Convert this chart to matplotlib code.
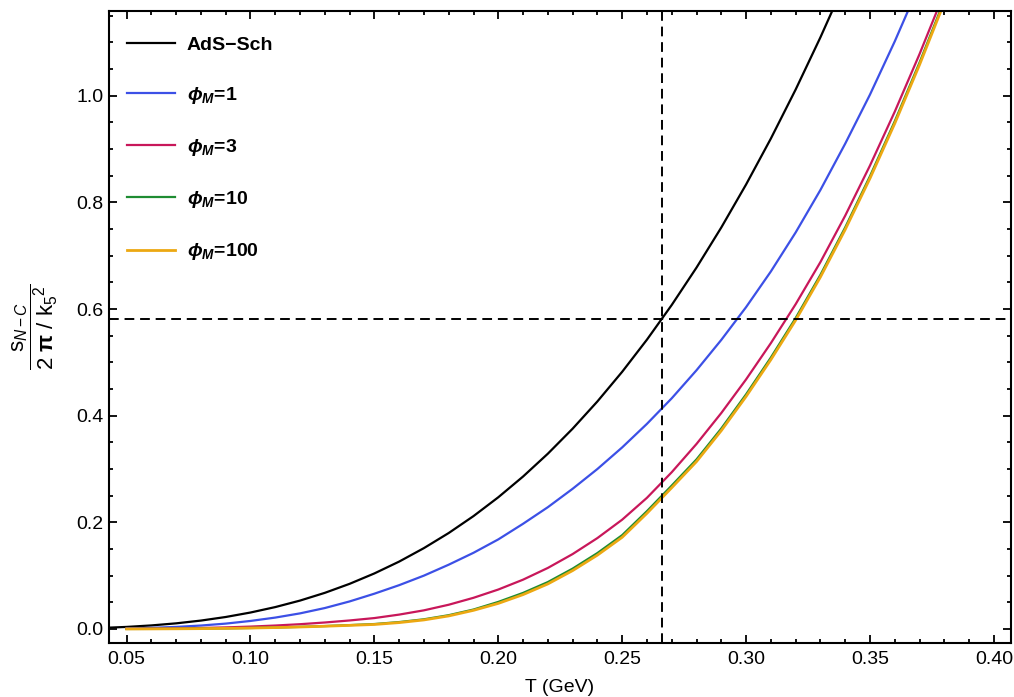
import numpy as np
import matplotlib
matplotlib.use('Agg')
import matplotlib.pyplot as plt

# ---- data (T in GeV, entropy density ratio) ----
T_ads = [0.04, 0.05, 0.06, 0.07, 0.08, 0.09, 0.10, 0.11, 0.12, 0.13, 0.14, 0.15,
         0.16, 0.17, 0.18, 0.19, 0.20, 0.21, 0.22, 0.23, 0.24, 0.25, 0.26, 0.27,
         0.28, 0.29, 0.30, 0.31, 0.32, 0.33, 0.34]
s_ads = [0.002, 0.0039, 0.0067, 0.0106, 0.0158, 0.0225, 0.0309, 0.0411, 0.0533,
         0.0678, 0.0847, 0.1042, 0.1264, 0.1517, 0.1800, 0.2117, 0.2470, 0.2859,
         0.3287, 0.3756, 0.4267, 0.4823, 0.5426, 0.6076, 0.6777, 0.7529, 0.8335,
         0.9196, 1.0115, 1.1094, 1.2133]

T_phi = [0.05, 0.06, 0.07, 0.08, 0.09, 0.10, 0.11, 0.12, 0.13, 0.14, 0.15, 0.16,
         0.17, 0.18, 0.19, 0.20, 0.21, 0.22, 0.23, 0.24, 0.25, 0.26, 0.27, 0.28,
         0.29, 0.30, 0.31, 0.32, 0.33, 0.34, 0.35, 0.36, 0.37, 0.38]
s_phi1 = [0.0012, 0.0022, 0.0039, 0.0065, 0.0101, 0.0151, 0.0214, 0.0293, 0.0393,
          0.0517, 0.0662, 0.0822, 0.1001, 0.1206, 0.1429, 0.1680, 0.1973, 0.2284,
          0.2629, 0.3000, 0.3405, 0.3847, 0.4326, 0.4852, 0.5421, 0.6035, 0.6704,
          0.7435, 0.8232, 0.9100, 1.0020, 1.1018, 1.2087, 1.32]
s_phi3 = [0.0003, 0.0006, 0.0011, 0.0019, 0.0030, 0.0045, 0.0065, 0.0090, 0.0122,
          0.0160, 0.0205, 0.027, 0.035, 0.0455, 0.0585, 0.074, 0.0925, 0.1145,
          0.1405, 0.1705, 0.205, 0.246, 0.294, 0.347, 0.405, 0.468, 0.536, 0.609,
          0.688, 0.775, 0.869, 0.970, 1.078, 1.193]
s_phi10 = [0.0001, 0.0002, 0.0004, 0.0007, 0.0012, 0.0019, 0.0028, 0.0040, 0.0055,
           0.0073, 0.0093, 0.0130, 0.0182, 0.0259, 0.0365, 0.0508, 0.0677, 0.0880,
           0.1132, 0.1424, 0.1760, 0.2210, 0.2690, 0.3180, 0.3760, 0.4400, 0.5090,
           0.5830, 0.6640, 0.7530, 0.8490, 0.9520, 1.0620, 1.1790]
s_phi100 = [0.0001, 0.0002, 0.0004, 0.0007, 0.0012, 0.0018, 0.0027, 0.0038, 0.0052,
            0.0068, 0.0085, 0.012, 0.017, 0.0245, 0.035, 0.048, 0.0645, 0.0845,
            0.1095, 0.1385, 0.172, 0.217, 0.265, 0.314, 0.372, 0.436, 0.505, 0.579,
            0.660, 0.749, 0.845, 0.948, 1.058, 1.175]

T_mark = 0.266
s_mark = 0.581

labels = ['AdS\u2212Sch', r'$\mathbfit{\phi}_{\mathbfit{M}}$=1',
          r'$\mathbfit{\phi}_{\mathbfit{M}}$=3', r'$\mathbfit{\phi}_{\mathbfit{M}}$=10',
          r'$\mathbfit{\phi}_{\mathbfit{M}}$=100']
colors = ['#000000', '#3c50e6', '#c8175a', '#1e8c32', '#eca812']

plt.rcParams['font.family'] = ['Liberation Sans', 'DejaVu Sans']
plt.rcParams['mathtext.fontset'] = 'custom'
plt.rcParams['mathtext.rm'] = 'Liberation Sans'
plt.rcParams['mathtext.it'] = 'Liberation Sans:italic'
plt.rcParams['mathtext.bf'] = 'Liberation Sans:bold'
plt.rcParams['mathtext.bfit'] = 'Liberation Sans:italic:bold'

fig = plt.figure(figsize=(10.14, 6.97), dpi=100)
ax = fig.add_axes([0.1075, 0.0779, 0.8895, 0.9063])

lw = 1.6
ax.plot(T_ads, s_ads, color=colors[0], lw=lw, label=labels[0])
ax.plot(T_phi, s_phi1, color=colors[1], lw=lw, label=labels[1])
ax.plot(T_phi, s_phi3, color=colors[2], lw=lw, label=labels[2])
ax.plot(T_phi, s_phi10, color=colors[3], lw=lw, label=labels[3])
ax.plot(T_phi, s_phi100, color=colors[4], lw=lw + 0.4, label=labels[4])

ax.axhline(s_mark, color='black', lw=1.4, ls=(0, (5, 3)))
ax.axvline(T_mark, color='black', lw=1.4, ls=(0, (5, 3)))

ax.set_xlim(0.0429, 0.4069)
ax.set_ylim(-0.0257, 1.1588)
ax.set_xticks(np.arange(0.05, 0.401, 0.05))
ax.set_xticks(np.arange(0.05, 0.401, 0.01), minor=True)
ax.set_yticks(np.arange(0.0, 1.01, 0.2))
ax.set_yticks(np.arange(0.0, 1.151, 0.05), minor=True)
ax.xaxis.set_major_formatter(matplotlib.ticker.FormatStrFormatter('%.2f'))
ax.yaxis.set_major_formatter(matplotlib.ticker.FormatStrFormatter('%.1f'))
ax.tick_params(which='both', direction='in', top=True, right=True,
               labelsize=14, width=1.3)
ax.tick_params(which='major', length=5.5, pad=6)
ax.tick_params(which='minor', length=3)
ax.tick_params(axis='y', which='major', pad=4)
for sp in ax.spines.values():
    sp.set_linewidth(1.5)

ax.set_xlabel('T (GeV)', fontsize=14, labelpad=8)
ax.set_ylabel(r'$\dfrac{\mathrm{s}_{N-C}}{2\ \mathbf{\pi}\ /\ \mathrm{k}_5{}^{2}}$',
              fontsize=16, labelpad=12)

ax.legend(loc='upper left', bbox_to_anchor=(0.0196, 0.96), frameon=False,
          prop={'weight': 'bold', 'size': 14}, handlelength=2.5,
          handletextpad=0.6, labelspacing=1.6, borderpad=0, borderaxespad=0)

fig.savefig('out.png', dpi=100)
